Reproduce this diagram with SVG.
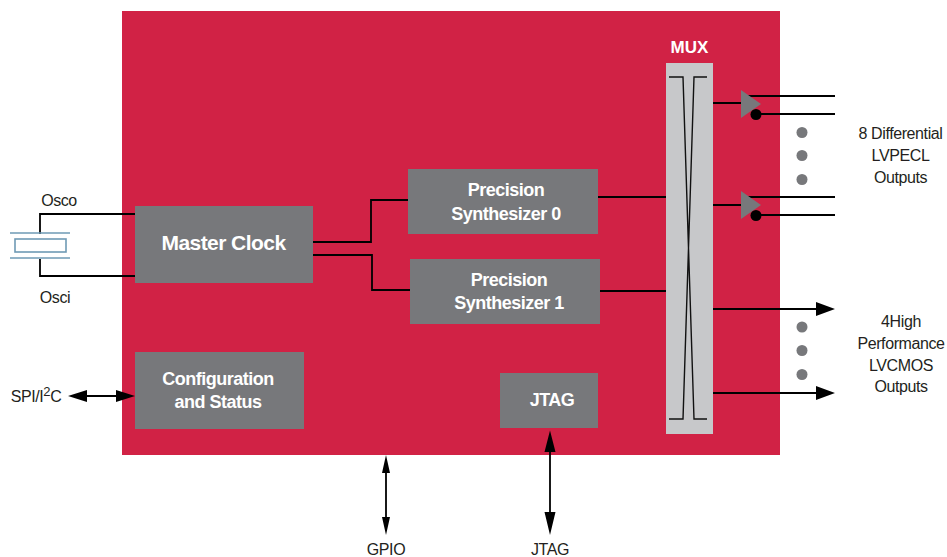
<svg xmlns="http://www.w3.org/2000/svg" width="947" height="557" viewBox="0 0 947 557">
<style>
text{font-family:"Liberation Sans",Arial,sans-serif;fill:#231f20;font-size:16px;letter-spacing:-.4px;text-anchor:middle}
.w{fill:#fff;font-weight:700;font-size:18px;letter-spacing:-.5px}
.b{fill:#77787b}
.l{fill:none;stroke:#000;stroke-width:1.8}
.t{fill:none;stroke:#111;stroke-width:1.4}
.c{fill:none;stroke:#6f9ab5;stroke-width:1.6}
</style>
<rect id="board" x="122" y="11" width="658" height="444" fill="#d12245"/>
<g id="connectors">
<path class="l" d="M135 214H40V234M135 276H40V259"/>
<path class="l" d="M313 242H371V200H408M313 255H372V290H410"/>
<path class="l" d="M598 197H667M600 291H667"/>
<path class="l" d="M713 103H742M713 205H742M748 96H835M756 114H835M748 197H835M756 215H835"/>
<path class="l" d="M713 309H820M713 393H820"/>
<path d="M816 302L835 309L816 316Z M816 386L835 393L816 400Z"/>
<path class="l" d="M82 396H122"/>
<path d="M68 396L87 390V402Z M135 396L116 390V402Z"/>
<path class="l" d="M386 465V518" stroke-width="1.500"/>
<path d="M386 455L390 473H382Z M386 535L390 517H382Z"/>
<path class="l" d="M550 445V525"/>
<path d="M550 430.500L555.500 452H544.500Z M550 535L555.500 512H544.500Z"/>
</g>
<g id="crystal">
<path class="c" d="M10 233H70M10 258H70"/>
<rect class="c" x="15" y="239" width="51" height="13" fill="#fff"/>
<text x="59" y="206">Osco</text>
<text x="55" y="303">Osci</text>
</g>
<g id="master-clock"><rect class="b" x="135" y="206" width="178" height="77"/><text class="w" x="223.500" y="250" style="font-size:21px;letter-spacing:-.55px">Master Clock</text></g>
<g id="synth-0"><rect class="b" x="408" y="169" width="190" height="65"/><text class="w" x="506" y="196">Precision</text><text class="w" x="506" y="220">Synthesizer 0</text></g>
<g id="synth-1"><rect class="b" x="410" y="259" width="190" height="65"/><text class="w" x="509" y="286">Precision</text><text class="w" x="509" y="309">Synthesizer 1</text></g>
<g id="config"><rect class="b" x="135" y="352" width="169" height="77"/><text class="w" x="218" y="385">Configuration</text><text class="w" x="218" y="408">and Status</text></g>
<g id="jtag-block"><rect class="b" x="500" y="373" width="98" height="55"/><text class="w" x="552" y="406">JTAG</text></g>
<g id="mux">
<text class="w" x="689.500" y="53" style="font-size:17px;letter-spacing:0">MUX</text>
<rect x="666" y="63" width="47" height="371" fill="#c7c8ca"/>
<path class="t" d="M669 77H683L694 419H707M707 77H694L683 419H669"/>
</g>
<g id="buffer-0"><path class="b" d="M741 90L761 104L741 118Z"/><circle cx="756" cy="114.500" r="5.500"/></g>
<g id="buffer-1"><path class="b" d="M741 191L761 205L741 219Z"/><circle cx="756" cy="215.500" r="5.500"/></g>
<g id="dots" class="b">
<circle cx="802" cy="132.500" r="5.500"/><circle cx="802" cy="155.500" r="5.500"/><circle cx="802" cy="179.500" r="5.500"/>
<circle cx="802" cy="327" r="5.500"/><circle cx="802" cy="350.500" r="5.500"/><circle cx="802" cy="374.500" r="5.500"/>
</g>
<g id="labels">
<text x="900.500" y="139">8 Differential</text><text x="900.500" y="161">LVPECL</text><text x="900.500" y="183">Outputs</text>
<text x="901" y="327">4High</text><text x="901" y="349">Performance</text><text x="901" y="371">LVCMOS</text><text x="901" y="392">Outputs</text>
<text x="36" y="402">SPI/I<tspan dy="-6" font-size="13">2</tspan><tspan dy="6">C</tspan></text>
<text x="386" y="555">GPIO</text><text x="550" y="555">JTAG</text>
</g>
</svg>
